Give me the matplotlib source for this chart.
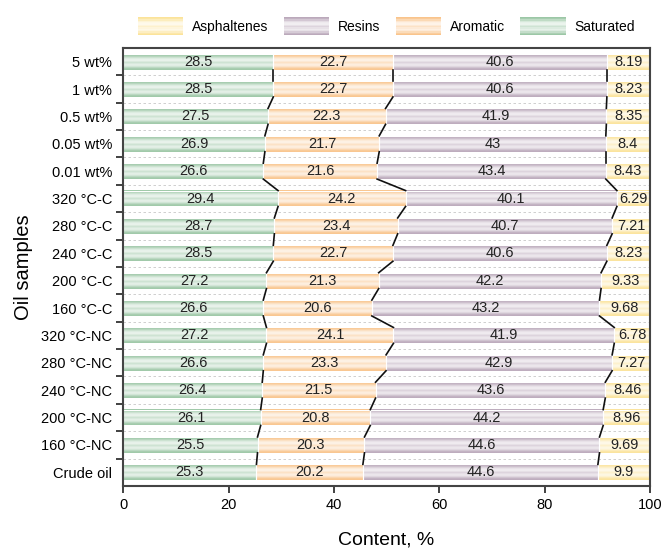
import numpy as np
import matplotlib
matplotlib.use("Agg")
from matplotlib import pyplot as plt
from matplotlib.patches import Rectangle
from matplotlib.legend_handler import HandlerBase
from matplotlib.colors import to_rgb

plt.rcParams['font.family'] = ['Liberation Sans', 'DejaVu Sans']

# samples listed bottom to top
samples = ['Crude oil', '160 °C-NC', '200 °C-NC', '240 °C-NC', '280 °C-NC',
           '320 °C-NC', '160 °C-C', '200 °C-C', '240 °C-C', '280 °C-C',
           '320 °C-C', '0.01 wt%', '0.05 wt%', '0.5 wt%', '1 wt%', '5 wt%']

saturated = [25.3, 25.5, 26.1, 26.4, 26.6, 27.2, 26.6, 27.2, 28.5, 28.7,
             29.4, 26.6, 26.9, 27.5, 28.5, 28.5]
aromatic = [20.2, 20.3, 20.8, 21.5, 23.3, 24.1, 20.6, 21.3, 22.7, 23.4,
            24.2, 21.6, 21.7, 22.3, 22.7, 22.7]
resins = [44.6, 44.6, 44.2, 43.6, 42.9, 41.9, 43.2, 42.2, 40.6, 40.7,
          40.1, 43.4, 43, 41.9, 40.6, 40.6]
asphaltenes = [9.9, 9.69, 8.96, 8.46, 7.27, 6.78, 9.68, 9.33, 8.23, 7.21,
               6.29, 8.43, 8.4, 8.35, 8.23, 8.19]

fractions = ['Saturated', 'Aromatic', 'Resins', 'Asphaltenes']
colors = {'Saturated': '#9cc7a6', 'Aromatic': '#f9c48c',
          'Resins': '#bba9bb', 'Asphaltenes': '#fbe39a'}

# striped fill: colour at the edges, lighter in the middle with a faint band
profile = np.array([1.0, 0.9, 0.65, 0.4, 0.25, 0.2, 0.35, 0.5, 0.35,
                    0.25, 0.35, 0.6, 0.85, 1.0])


def gradient(color):
    c = np.array(to_rgb(color))
    w = np.ones(3)
    return (w[None, :] + profile[:, None] * (c - w)[None, :])[:, None, :]


def fmt(v):
    return ('%g' % v)


values = np.array([saturated, aromatic, resins, asphaltenes])
n = len(samples)
y = np.arange(n)
h = 0.58

fig = plt.figure(figsize=(6.62, 5.51), dpi=100)
ax = fig.add_axes([0.186, 0.118, 0.796, 0.795])

# dashed guides between rows
for b in np.arange(n - 1) + 0.5:
    ax.axhline(b, color='#c8c8c8', lw=0.6, ls=(0, (3, 3)), zorder=0)

left = np.zeros(n)
for k, name in enumerate(fractions):
    img = gradient(colors[name])
    for i in range(n):
        w = values[k, i]
        ax.imshow(img, extent=(left[i], left[i] + w, y[i] - h / 2, y[i] + h / 2),
                  aspect='auto', interpolation='bilinear', zorder=1)
        ax.text(left[i] + w / 2, y[i], fmt(w), ha='center', va='center',
                fontsize=10.5, color='#222222', zorder=3)
    ax.barh(y, values[k], left=left, height=h, fill=False,
            edgecolor='white', lw=0.8, zorder=2)
    left = left + values[k]

# connectors between the boundaries of neighbouring bars
cum = np.cumsum(values, axis=0)[:3]
for i in range(n - 1):
    for k in range(3):
        ax.plot([cum[k, i], cum[k, i + 1]], [y[i] + h / 2, y[i + 1] - h / 2],
                color='#111111', lw=1.2, zorder=2)

ax.set_xlim(0, 100)
ax.set_ylim(-0.5, n - 0.5)
ax.set_xticks([0, 20, 40, 60, 80, 100])
ax.set_yticks(np.arange(n - 1) + 0.5)
ax.set_yticklabels([])
ax.set_yticks(y, minor=True)
ax.set_yticklabels(samples, minor=True)
ax.tick_params(axis='y', which='minor', length=0, labelsize=10.5, pad=8)
ax.tick_params(axis='y', which='major', length=5, width=1.3, color='#333333')
ax.tick_params(axis='x', length=5, width=1.3, color='#333333', labelsize=10.5, pad=4)
for s in ax.spines.values():
    s.set_linewidth(1.5)
    s.set_color('#444444')

ax.set_xlabel('Content, %', fontsize=14, labelpad=14)
ax.set_ylabel('Oil samples', fontsize=14.5, labelpad=6)


class GradientHandler(HandlerBase):
    def create_artists(self, legend, orig_handle, xdescent, ydescent,
                       width, height, fontsize, trans):
        img = gradient(orig_handle.fill_color)[:, 0, :]
        m = len(img)
        arts = []
        for j, c in enumerate(img):
            arts.append(Rectangle((-xdescent, -ydescent + height * (1 - (j + 1) / m)),
                                  width, height / m * 1.05, facecolor=c,
                                  edgecolor='none', transform=trans))
        return arts


legend_order = ['Asphaltenes', 'Resins', 'Aromatic', 'Saturated']
handles = []
for name in legend_order:
    r = Rectangle((0, 0), 1, 1)
    r.fill_color = colors[name]
    handles.append(r)

ax.legend(handles, legend_order,
          handler_map={Rectangle: GradientHandler()}, ncol=4,
          loc='lower center', bbox_to_anchor=(0.5, 1.0), frameon=False,
          fontsize=10, handlelength=3.25, handleheight=1.7, columnspacing=1.1,
          handletextpad=0.65)

fig.savefig('out.png', dpi=100)
